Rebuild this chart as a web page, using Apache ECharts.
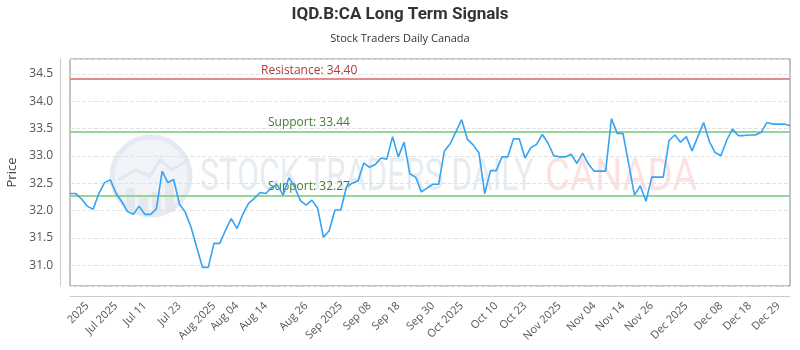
<!DOCTYPE html>
<html>
<head>
<meta charset="utf-8">
<title>IQD.B:CA Long Term Signals</title>
<script src="https://cdn.jsdelivr.net/npm/echarts@6/dist/echarts.min.js"></script>
<style>
  html, body { margin: 0; padding: 0; background: #fff; }
  #chart { width: 800px; height: 350px; }
</style>
</head>
<body>
<div id="chart"></div>
<script>
// Trading sessions, Jul 2 - Dec 31 2025
const dates = [
  '2025-07-02','2025-07-03','2025-07-04','2025-07-07','2025-07-08','2025-07-09','2025-07-10','2025-07-11',
  '2025-07-14','2025-07-15','2025-07-16','2025-07-17','2025-07-18','2025-07-21','2025-07-22','2025-07-23',
  '2025-07-24','2025-07-25','2025-07-28','2025-07-29','2025-07-30','2025-07-31',
  '2025-08-01','2025-08-05','2025-08-06','2025-08-07','2025-08-08','2025-08-11','2025-08-12','2025-08-13',
  '2025-08-14','2025-08-15','2025-08-18','2025-08-19','2025-08-20','2025-08-21','2025-08-22','2025-08-25',
  '2025-08-26','2025-08-27','2025-08-28','2025-08-29',
  '2025-09-02','2025-09-03','2025-09-04','2025-09-05','2025-09-08','2025-09-09','2025-09-10','2025-09-11',
  '2025-09-12','2025-09-15','2025-09-16','2025-09-17','2025-09-18','2025-09-19','2025-09-22','2025-09-23',
  '2025-09-24','2025-09-25','2025-09-26','2025-09-29','2025-09-30',
  '2025-10-01','2025-10-02','2025-10-03','2025-10-06','2025-10-07','2025-10-08','2025-10-09','2025-10-10',
  '2025-10-14','2025-10-15','2025-10-16','2025-10-17','2025-10-20','2025-10-21','2025-10-22','2025-10-23',
  '2025-10-24','2025-10-27','2025-10-28','2025-10-29','2025-10-30','2025-10-31',
  '2025-11-03','2025-11-04','2025-11-05','2025-11-06','2025-11-07','2025-11-10','2025-11-11','2025-11-12',
  '2025-11-13','2025-11-14','2025-11-17','2025-11-18','2025-11-19','2025-11-20','2025-11-21','2025-11-24',
  '2025-11-25','2025-11-26','2025-11-27','2025-11-28',
  '2025-12-01','2025-12-02','2025-12-03','2025-12-04','2025-12-05','2025-12-08','2025-12-09','2025-12-10',
  '2025-12-11','2025-12-12','2025-12-15','2025-12-16','2025-12-17','2025-12-18','2025-12-19','2025-12-22',
  '2025-12-23','2025-12-24','2025-12-29','2025-12-30','2025-12-31'
];

// Closing prices
const prices = [
  32.31, 32.31, 32.21, 32.08, 32.02, 32.31, 32.51, 32.56, 32.31, 32.16,
  31.98, 31.93, 32.08, 31.93, 31.93, 32.03, 32.72, 32.51, 32.57, 32.12,
  31.97, 31.70, 31.33, 30.96, 30.96, 31.40, 31.40, 31.64, 31.85, 31.67,
  31.93, 32.13, 32.22, 32.33, 32.31, 32.42, 32.47, 32.28, 32.60, 32.43,
  32.18, 32.10, 32.19, 32.04, 31.51, 31.63, 32.01, 32.01, 32.43, 32.50,
  32.54, 32.87, 32.79, 32.84, 32.96, 32.94, 33.35, 32.98, 33.25, 32.67,
  32.61, 32.34, 32.41, 32.48, 32.48, 33.09, 33.22, 33.44, 33.66, 33.30,
  33.20, 33.05, 32.31, 32.73, 32.73, 32.98, 32.98, 33.31, 33.31, 32.96,
  33.15, 33.21, 33.39, 33.23, 33.00, 32.98, 32.98, 33.03, 32.86, 33.05,
  32.85, 32.72, 32.72, 32.72, 33.68, 33.41, 33.41, 32.85, 32.28, 32.45,
  32.17, 32.61, 32.61, 32.61, 33.28, 33.38, 33.25, 33.35, 33.09, 33.35,
  33.61, 33.26, 33.06, 33.00, 33.28, 33.49, 33.37, 33.37, 33.38, 33.38,
  33.43, 33.61, 33.58, 33.58, 33.58, 33.55
];

// Signal levels
const resistanceLevels = [34.40];
const supportLevels = [33.44, 32.27];

// Bottom axis labels and the sessions they sit on
const tickText = [
  '2025', 'Jul 2025', 'Jul 11', 'Jul 23', 'Aug 2025', 'Aug 04', 'Aug 14', 'Aug 26',
  'Sep 2025', 'Sep 08', 'Sep 18', 'Sep 30', 'Oct 2025', 'Oct 10', 'Oct 23',
  'Nov 2025', 'Nov 04', 'Nov 14', 'Nov 26', 'Dec 2025', 'Dec 08', 'Dec 18', 'Dec 29'
];
const tickIndex = [3, 8, 13, 19, 25, 29, 34, 41, 47, 52, 57, 63, 68, 74, 79, 85, 91, 96, 101, 107, 113, 118, 123];

const chart = echarts.init(document.getElementById('chart'), null, { renderer: 'canvas' });

const levelLines = [];
resistanceLevels.forEach(v => levelLines.push({
  yAxis: v,
  lineStyle: { color: '#e58b8b', width: 2, type: 'solid' },
  label: {
    show: true, position: 'insideStartTop', distance: [191, 3],
    color: '#b23a3a', fontSize: 12, fontFamily: 'Open Sans',
    formatter: p => 'Resistance: ' + Number(p.value).toFixed(2)
  }
}));
supportLevels.forEach(v => levelLines.push({
  yAxis: v,
  lineStyle: { color: '#97d497', width: 2, type: 'solid' },
  label: {
    show: true, position: 'insideStartTop', distance: [198, 3],
    color: '#3f7f2f', fontSize: 12, fontFamily: 'Open Sans',
    formatter: p => 'Support: ' + Number(p.value).toFixed(2)
  }
}));

const option = {
  animation: false,
  backgroundColor: '#ffffff',
  title: [
    {
      text: 'IQD.B:CA Long Term Signals', left: 'center', top: 1,
      textStyle: { fontSize: 17, fontWeight: 'bold', color: '#333', fontFamily: 'Roboto' }
    },
    {
      text: 'Stock Traders Daily Canada', left: 'center', top: 28,
      textStyle: { fontSize: 11, fontWeight: 'normal', color: '#333', fontFamily: 'Open Sans' }
    }
  ],
  grid: {
    left: 70, right: 10, top: 59, bottom: 64,
    show: true, borderColor: '#888', borderWidth: 1,
    containLabel: false, outerBoundsMode: 'none'
  },
  graphic: [
    { type: 'circle', z: -10, silent: true,
      shape: { cx: 151, cy: 176, r: 39 },
      style: { fill: '#f0f4f8', stroke: '#e3eaf1', lineWidth: 5 } },
    { type: 'rect', z: -9, silent: true, shape: { x: 126, y: 188, width: 9, height: 24 }, style: { fill: '#e4e8ed' } },
    { type: 'rect', z: -9, silent: true, shape: { x: 139, y: 196, width: 9, height: 16 }, style: { fill: '#e4e8ed' } },
    { type: 'rect', z: -9, silent: true, shape: { x: 152, y: 192, width: 9, height: 20 }, style: { fill: '#e4e8ed' } },
    { type: 'rect', z: -9, silent: true, shape: { x: 165, y: 180, width: 9, height: 32 }, style: { fill: '#e4e8ed' } },
    { type: 'polyline', z: -9, silent: true,
      shape: { points: [[118, 180], [136, 170], [150, 176], [160, 160], [172, 170], [185, 162]] },
      style: { stroke: '#e2e7ed', lineWidth: 3, fill: null } },
    { type: 'text', z: -10, silent: true, x: 200, y: 179, scaleX: 0.72,
      style: { text: 'STOCK TRADERS DAILY', font: '44px Roboto', fill: '#e7ecf1', align: 'left', verticalAlign: 'middle' } },
    { type: 'text', z: -10, silent: true, x: 545, y: 179, scaleX: 0.87,
      style: { text: 'CANADA', font: '44px Roboto', fill: '#fbe2e2', align: 'left', verticalAlign: 'middle' } }
  ],
  xAxis: {
    type: 'category',
    data: dates,
    boundaryGap: false,
    offset: 10,
    axisLine: { show: true, lineStyle: { color: '#ccc', width: 1 } },
    axisTick: { show: false },
    splitLine: { show: false },
    axisLabel: {
      rotate: 45,
      margin: 8,
      color: '#555',
      fontSize: 11,
      fontFamily: 'Open Sans',
      hideOverlap: false,
      interval: (i) => tickIndex.indexOf(i) !== -1,
      formatter: (v, i) => {
        const k = tickIndex.indexOf(i);
        return k === -1 ? '' : tickText[k];
      }
    }
  },
  yAxis: {
    type: 'value',
    min: 30.62,
    max: 34.77,
    splitNumber: 8,
    offset: 10,
    name: 'Price',
    nameLocation: 'middle',
    nameGap: 35,
    nameTextStyle: { color: '#444', fontSize: 13, fontFamily: 'Open Sans' },
    axisLine: { show: true, lineStyle: { color: '#ccc', width: 1 } },
    axisTick: { show: false },
    axisLabel: {
      color: '#555', fontSize: 12, fontFamily: 'Open Sans', margin: 7,
      showMinLabel: false, showMaxLabel: false,
      formatter: v => v.toFixed(1)
    },
    splitLine: { show: true, lineStyle: { type: 'dashed', color: '#e2e2e2', width: 1 } }
  },
  series: [
    {
      name: 'IQD.B:CA',
      type: 'line',
      data: prices,
      showSymbol: false,
      symbol: 'none',
      z: 3,
      lineStyle: { color: '#34a3f3', width: 1.6 },
      itemStyle: { color: '#34a3f3' },
      markLine: {
        silent: true,
        symbol: 'none',
        z: 2,
        data: levelLines
      }
    }
  ]
};

chart.setOption(option);
</script>
</body>
</html>
